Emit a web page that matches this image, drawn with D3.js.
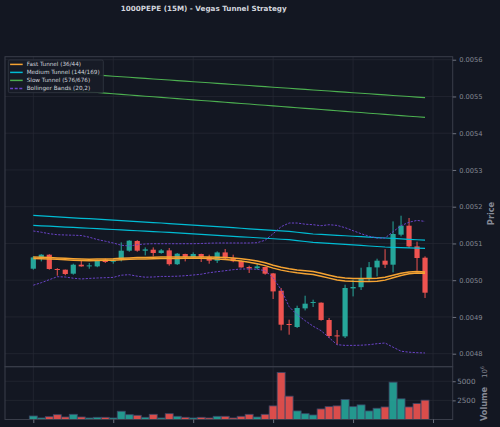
<!DOCTYPE html>
<html>
<head>
<meta charset="utf-8">
<script src="https://cdn.jsdelivr.net/npm/d3@7"></script>
<style>
    html, body { margin: 0; padding: 0; background: #131722; }
    svg { display: block; font-family: "DejaVu Sans", sans-serif; }
</style>
</head>
<body>
<div id="plot"></div>
<script>
// ---- data ----
let title = '1000PEPE (15M) - Vegas Tunnel Strategy';

let open = [0.0050313, 0.0050620, 0.0050694, 0.0050305, 0.0050286, 0.0050177, 0.0050422, 0.0050376, 0.0050376, 0.0050558,
    0.0050503, 0.0050571, 0.0050803, 0.0051067, 0.0050803, 0.0050830, 0.0050740, 0.0050811, 0.0050435, 0.0050713,
    0.0050631, 0.0050713, 0.0050631, 0.0050531, 0.0050756, 0.0050599, 0.0050522, 0.0050359, 0.0050327, 0.0050359,
    0.0050185, 0.0049714, 0.0048808, 0.0048726, 0.0049233, 0.0049380, 0.0049388, 0.0048917, 0.0048498, 0.0048471,
    0.0049777, 0.0049810, 0.0050041, 0.0050348, 0.0050531, 0.0050422, 0.0051238, 0.0051483, 0.0050920, 0.0050612];
let high = [0.0050653, 0.0050707, 0.0050707, 0.0050327, 0.0050290, 0.0050449, 0.0050539, 0.0050468, 0.0050558, 0.0050585,
    0.0050577, 0.0051029, 0.0051088, 0.0051088, 0.0050892, 0.0050892, 0.0050849, 0.0050876, 0.0050740, 0.0050721,
    0.0050756, 0.0050721, 0.0050694, 0.0050784, 0.0050849, 0.0050694, 0.0050531, 0.0050395, 0.0050449, 0.0050367,
    0.0050196, 0.0049788, 0.0048925, 0.0049306, 0.0049578, 0.0049469, 0.0049396, 0.0048971, 0.0048645, 0.0049878,
    0.0050014, 0.0050340, 0.0050495, 0.0050585, 0.0050844, 0.0051600, 0.0051755, 0.0051693, 0.0051048, 0.0050648];
let low = [0.0050286, 0.0050512, 0.0050286, 0.0050122, 0.0050136, 0.0050150, 0.0050367, 0.0050313, 0.0050354, 0.0050468,
    0.0050449, 0.0050512, 0.0050775, 0.0050775, 0.0050675, 0.0050648, 0.0050721, 0.0050395, 0.0050414, 0.0050512,
    0.0050604, 0.0050495, 0.0050449, 0.0050468, 0.0050571, 0.0050490, 0.0050340, 0.0050196, 0.0050286, 0.0050150,
    0.0049488, 0.0048634, 0.0048517, 0.0048699, 0.0049178, 0.0049271, 0.0048898, 0.0048427, 0.0048245, 0.0048427,
    0.0049559, 0.0049733, 0.0049967, 0.0050103, 0.0050332, 0.0050212, 0.0051192, 0.0050876, 0.0050258, 0.0049516];
let close = [0.0050620, 0.0050694, 0.0050305, 0.0050278, 0.0050169, 0.0050422, 0.0050376, 0.0050403, 0.0050539, 0.0050495,
    0.0050539, 0.0050803, 0.0051075, 0.0050803, 0.0050838, 0.0050740, 0.0050811, 0.0050435, 0.0050721, 0.0050631,
    0.0050713, 0.0050631, 0.0050531, 0.0050756, 0.0050593, 0.0050517, 0.0050348, 0.0050321, 0.0050376, 0.0050177,
    0.0049695, 0.0048789, 0.0048781, 0.0049243, 0.0049361, 0.0049407, 0.0048917, 0.0048482, 0.0048471, 0.0049788,
    0.0049815, 0.0050041, 0.0050354, 0.0050531, 0.0050422, 0.0051257, 0.0051483, 0.0050920, 0.0050604, 0.0049660];

// volume in units of 10^6
let volume = [460, 200, 370, 630, 330, 680, 330, 200, 290, 290,
    200, 1080, 630, 550, 290, 680, 200, 760, 420, 290,
    200, 290, 200, 420, 420, 200, 420, 680, 330, 680,
    1780, 6150, 3050, 1120, 760, 590, 1380, 1680, 1780, 2610,
    1680, 1910, 1120, 1470, 1640, 4880, 2700, 1640, 2080, 2530];

// Fast tunnel EMA 36 / 44
let fast36 = [0.0050631, 0.0050626, 0.0050618, 0.0050607, 0.0050596, 0.0050585, 0.0050577, 0.0050571, 0.0050574, 0.0050580,
    0.0050585, 0.0050596, 0.0050607, 0.0050615, 0.0050620, 0.0050626, 0.0050631, 0.0050631, 0.0050631, 0.0050634,
    0.0050634, 0.0050634, 0.0050631, 0.0050626, 0.0050618, 0.0050604, 0.0050585, 0.0050558, 0.0050525, 0.0050476,
    0.0050408, 0.0050354, 0.0050313, 0.0050280, 0.0050258, 0.0050237, 0.0050190, 0.0050136, 0.0050087, 0.0050060,
    0.0050049, 0.0050046, 0.0050046, 0.0050054, 0.0050082, 0.0050136, 0.0050190, 0.0050223, 0.0050237, 0.0050226];
let fast44 = [0.0050591, 0.0050586, 0.0050578, 0.0050567, 0.0050556, 0.0050545, 0.0050537, 0.0050531, 0.0050534, 0.0050540,
    0.0050545, 0.0050556, 0.0050567, 0.0050575, 0.0050580, 0.0050586, 0.0050591, 0.0050591, 0.0050591, 0.0050594,
    0.0050594, 0.0050594, 0.0050591, 0.0050576, 0.0050563, 0.0050544, 0.0050520, 0.0050488, 0.0050450, 0.0050396,
    0.0050328, 0.0050274, 0.0050233, 0.0050200, 0.0050178, 0.0050157, 0.0050110, 0.0050056, 0.0050007, 0.0049980,
    0.0049969, 0.0049966, 0.0049966, 0.0049974, 0.0050002, 0.0050066, 0.0050130, 0.0050173, 0.0050197, 0.0050191];

// Medium tunnel EMA 144 / 169
let medium144 = [0.0051763, 0.0051750, 0.0051737, 0.0051724, 0.0051711, 0.0051698, 0.0051685, 0.0051673, 0.0051660, 0.0051647,
    0.0051634, 0.0051621, 0.0051608, 0.0051595, 0.0051582, 0.0051569, 0.0051556, 0.0051542, 0.0051528, 0.0051513,
    0.0051499, 0.0051485, 0.0051471, 0.0051456, 0.0051442, 0.0051428, 0.0051414, 0.0051399, 0.0051385, 0.0051371,
    0.0051356, 0.0051342, 0.0051328, 0.0051304, 0.0051281, 0.0051257, 0.0051245, 0.0051233, 0.0051221, 0.0051209,
    0.0051196, 0.0051184, 0.0051172, 0.0051160, 0.0051148, 0.0051136, 0.0051124, 0.0051112, 0.0051100, 0.0051088];
let medium169 = [0.0051491, 0.0051480, 0.0051469, 0.0051457, 0.0051446, 0.0051435, 0.0051424, 0.0051413, 0.0051401, 0.0051390,
    0.0051379, 0.0051368, 0.0051357, 0.0051345, 0.0051334, 0.0051323, 0.0051312, 0.0051299, 0.0051286, 0.0051273,
    0.0051260, 0.0051247, 0.0051234, 0.0051220, 0.0051207, 0.0051194, 0.0051181, 0.0051168, 0.0051155, 0.0051142,
    0.0051128, 0.0051115, 0.0051102, 0.0051078, 0.0051053, 0.0051029, 0.0051015, 0.0051001, 0.0050987, 0.0050973,
    0.0050959, 0.0050945, 0.0050931, 0.0050917, 0.0050903, 0.0050895, 0.0050888, 0.0050880, 0.0050873, 0.0050865];

// Slow tunnel EMA 576 / 676
let slow576 = [0.0055701, 0.0055686, 0.0055671, 0.0055656, 0.0055641, 0.0055626, 0.0055612, 0.0055597, 0.0055582, 0.0055567,
    0.0055552, 0.0055537, 0.0055522, 0.0055507, 0.0055492, 0.0055477, 0.0055462, 0.0055447, 0.0055432, 0.0055417,
    0.0055402, 0.0055387, 0.0055372, 0.0055357, 0.0055342, 0.0055327, 0.0055312, 0.0055297, 0.0055282, 0.0055267,
    0.0055252, 0.0055237, 0.0055222, 0.0055207, 0.0055192, 0.0055177, 0.0055162, 0.0055147, 0.0055132, 0.0055117,
    0.0055102, 0.0055087, 0.0055072, 0.0055057, 0.0055042, 0.0055027, 0.0055012, 0.0054997, 0.0054982, 0.0054967];
let slow676 = [0.0055238, 0.0055222, 0.0055205, 0.0055189, 0.0055172, 0.0055156, 0.0055139, 0.0055123, 0.0055106, 0.0055090,
    0.0055073, 0.0055057, 0.0055040, 0.0055024, 0.0055007, 0.0054991, 0.0054974, 0.0054958, 0.0054941, 0.0054925,
    0.0054908, 0.0054892, 0.0054875, 0.0054859, 0.0054842, 0.0054826, 0.0054809, 0.0054793, 0.0054776, 0.0054760,
    0.0054743, 0.0054727, 0.0054710, 0.0054694, 0.0054677, 0.0054661, 0.0054644, 0.0054628, 0.0054611, 0.0054595,
    0.0054578, 0.0054562, 0.0054545, 0.0054529, 0.0054512, 0.0054496, 0.0054479, 0.0054463, 0.0054446, 0.0054430];

// Bollinger bands (20, 2)
let bbUpper = [0.0051339, 0.0051306, 0.0051265, 0.0051238, 0.0051230, 0.0051224, 0.0051216, 0.0051170, 0.0051107, 0.0051061,
    0.0051012, 0.0050952, 0.0050931, 0.0050966, 0.0050985, 0.0050993, 0.0050993, 0.0050993, 0.0050993, 0.0050993,
    0.0050993, 0.0050999, 0.0051007, 0.0051012, 0.0051012, 0.0051012, 0.0051012, 0.0051012, 0.0051020, 0.0051088,
    0.0051265, 0.0051456, 0.0051556, 0.0051556, 0.0051524, 0.0051510, 0.0051483, 0.0051510, 0.0051491, 0.0051429,
    0.0051347, 0.0051265, 0.0051197, 0.0051148, 0.0051148, 0.0051320, 0.0051483, 0.0051578, 0.0051627, 0.0051600];
let bbLower = [0.0049864, 0.0049932, 0.0050014, 0.0050095, 0.0050087, 0.0050054, 0.0050033, 0.0050049, 0.0050060, 0.0050068,
    0.0050076, 0.0050136, 0.0050150, 0.0050109, 0.0050082, 0.0050087, 0.0050103, 0.0050103, 0.0050109, 0.0050122,
    0.0050141, 0.0050163, 0.0050204, 0.0050231, 0.0050258, 0.0050286, 0.0050305, 0.0050305, 0.0050299, 0.0050258,
    0.0050068, 0.0049741, 0.0049279, 0.0049061, 0.0048898, 0.0048748, 0.0048626, 0.0048435, 0.0048245, 0.0048226,
    0.0048226, 0.0048231, 0.0048245, 0.0048272, 0.0048291, 0.0048177, 0.0048068, 0.0048041, 0.0048027, 0.0048019];

let priceTicks = [0.0048, 0.0049, 0.0050, 0.0051, 0.0052, 0.0053, 0.0054, 0.0055, 0.0056];
let volumeTicks = [2500, 5000];
let xTicks = [0, 10, 20, 30, 40, 50];

let legendLabels = ['Fast Tunnel (36/44)', 'Medium Tunnel (144/169)', 'Slow Tunnel (576/676)', 'Bollinger Bands (20,2)'];

// ---- layout ----
let svgWidth = 500;
let svgHeight = 427;
let panel = { left: 5, right: 452.7, top: 56.7, split: 366.7, bottom: 419.5 };

let colors = {
    bg: '#131722', grid: '#262a35', spine: '#3a3e4a', tick: '#858995', text: '#d1d4dc',
    up: '#26a69a', down: '#ef5350',
    fast: '#f5a332', medium: '#00bcd4', slow: '#4caf50', bb: '#6a43c8'
};

let $svg = d3.select('#plot')
    .append('svg')
    .attr('width', svgWidth)
    .attr('height', svgHeight);

$svg.append('rect')
    .attr('width', svgWidth)
    .attr('height', svgHeight)
    .attr('fill', colors.bg);

let n = close.length;
let idx = d3.range(n);

let xScale = d3.scaleLinear()
    .domain([-3.54, 52.46])
    .range([panel.left, panel.right]);

let yScale = d3.scaleLinear()
    .domain([0.0047646, 0.0056082])
    .range([panel.split, panel.top]);

let vScale = d3.scaleLinear()
    .domain([0, 6900])
    .range([panel.bottom, panel.split]);

let unit = xScale(1) - xScale(0);

// clip paths for the two panels
let defs = $svg.append('defs');
defs.append('clipPath').attr('id', 'clip-main')
    .append('rect')
    .attr('x', panel.left).attr('y', panel.top)
    .attr('width', panel.right - panel.left).attr('height', panel.split - panel.top);
defs.append('clipPath').attr('id', 'clip-vol')
    .append('rect')
    .attr('x', panel.left).attr('y', panel.split)
    .attr('width', panel.right - panel.left).attr('height', panel.bottom - panel.split);

// ---- grids ----
let $grid = $svg.append('g').attr('stroke', colors.grid).attr('stroke-width', 0.7);

$grid.selectAll('.hgrid')
    .data(priceTicks)
    .enter()
    .append('line')
    .attr('x1', panel.left).attr('x2', panel.right)
    .attr('y1', d => yScale(d)).attr('y2', d => yScale(d));

$grid.selectAll('.vhgrid')
    .data(volumeTicks)
    .enter()
    .append('line')
    .attr('x1', panel.left).attr('x2', panel.right)
    .attr('y1', d => vScale(d)).attr('y2', d => vScale(d));

$grid.selectAll('.vgrid')
    .data(xTicks)
    .enter()
    .append('line')
    .attr('x1', d => xScale(d)).attr('x2', d => xScale(d))
    .attr('y1', panel.top).attr('y2', panel.bottom);

// ---- candles ----
let $candles = $svg.append('g').attr('clip-path', 'url(#clip-main)');

let candleData = idx.map(i => ({ i: i, o: open[i], h: high[i], l: low[i], c: close[i], v: volume[i] }));
let colorOf = d => d.c >= d.o ? colors.up : colors.down;

$candles.selectAll('.wick')
    .data(candleData)
    .enter()
    .append('line')
    .attr('x1', d => xScale(d.i)).attr('x2', d => xScale(d.i))
    .attr('y1', d => yScale(d.h)).attr('y2', d => yScale(d.l))
    .attr('stroke', colorOf)
    .attr('stroke-width', 1);

$candles.selectAll('.body')
    .data(candleData)
    .enter()
    .append('rect')
    .attr('x', d => xScale(d.i - 0.325))
    .attr('width', unit * 0.65)
    .attr('y', d => yScale(Math.max(d.o, d.c)))
    .attr('height', d => Math.max(1, Math.abs(yScale(d.o) - yScale(d.c))))
    .attr('fill', colorOf);

// ---- indicator lines ----
let lineGen = d3.line()
    .x((d, i) => xScale(i))
    .y(d => yScale(d));

let $lines = $svg.append('g').attr('clip-path', 'url(#clip-main)').attr('fill', 'none');

let series = [
    { values: slow576, color: colors.slow, width: 1.1 },
    { values: slow676, color: colors.slow, width: 1.1 },
    { values: medium144, color: colors.medium, width: 1.2 },
    { values: medium169, color: colors.medium, width: 1.2 },
    { values: bbUpper, color: colors.bb, width: 1, dash: '2.2,1.4' },
    { values: bbLower, color: colors.bb, width: 1, dash: '2.2,1.4' },
    { values: fast36, color: colors.fast, width: 1.5 },
    { values: fast44, color: colors.fast, width: 1.5 }
];

series.forEach(s => {
    $lines.append('path')
        .attr('d', lineGen(s.values))
        .attr('stroke', s.color)
        .attr('stroke-width', s.width)
        .attr('stroke-dasharray', s.dash || null);
});

// ---- volume bars ----
$svg.append('g')
    .attr('clip-path', 'url(#clip-vol)')
    .selectAll('rect')
    .data(candleData)
    .enter()
    .append('rect')
    .attr('x', d => xScale(d.i - 0.5))
    .attr('width', unit)
    .attr('y', d => vScale(d.v))
    .attr('height', d => vScale(0) - vScale(d.v))
    .attr('fill', colorOf)
    .attr('fill-opacity', 0.9)
    .attr('stroke', '#3b4766')
    .attr('stroke-width', 0.8);

// ---- frames ----
let $frame = $svg.append('g').attr('fill', 'none').attr('stroke', colors.spine).attr('stroke-width', 1);
$frame.append('rect')
    .attr('x', panel.left).attr('y', panel.top)
    .attr('width', panel.right - panel.left).attr('height', panel.split - panel.top);
$frame.append('rect')
    .attr('x', panel.left).attr('y', panel.split)
    .attr('width', panel.right - panel.left).attr('height', panel.bottom - panel.split);

// ---- axes ----
let priceAxis = d3.axisRight(yScale)
    .tickValues(priceTicks)
    .tickFormat(d3.format('.4f'))
    .tickSize(3.5)
    .tickPadding(3);

let $pAxis = $svg.append('g')
    .attr('transform', `translate(${panel.right}, 0)`)
    .call(priceAxis);

let volAxis = d3.axisRight(vScale)
    .tickValues(volumeTicks)
    .tickFormat(d3.format('d'))
    .tickSize(3)
    .tickPadding(1.5);

let $vAxis = $svg.append('g')
    .attr('transform', `translate(${panel.right}, 0)`)
    .call(volAxis);

let bottomAxis = d3.axisBottom(xScale)
    .tickValues(xTicks)
    .tickFormat('')
    .tickSize(3.5);

let $xAxis = $svg.append('g')
    .attr('transform', `translate(0, ${panel.bottom})`)
    .call(bottomAxis);

[$pAxis, $vAxis, $xAxis].forEach($a => {
    $a.select('.domain').remove();
    $a.selectAll('.tick line').attr('stroke', colors.tick).attr('stroke-width', 0.8);
    $a.selectAll('.tick text')
        .attr('fill', colors.tick)
        .attr('font-family', '"DejaVu Sans", sans-serif');
});
$pAxis.selectAll('.tick text').attr('font-size', 6.7);
$vAxis.selectAll('.tick text').attr('font-size', 7.2);

// axis labels
$svg.append('text')
    .attr('transform', 'translate(494, 213.5) rotate(-90)')
    .attr('text-anchor', 'middle')
    .attr('font-size', 8.2)
    .attr('font-weight', 'bold')
    .attr('fill', colors.tick)
    .text('Price');

$svg.append('text')
    .attr('transform', 'translate(486.5, 404) rotate(-90)')
    .attr('text-anchor', 'middle')
    .attr('font-size', 8.2)
    .attr('font-weight', 'bold')
    .attr('fill', colors.tick)
    .text('Volume');

let $offset = $svg.append('text')
    .attr('transform', 'translate(486.5, 372) rotate(-90)')
    .attr('text-anchor', 'middle')
    .attr('font-size', 7)
    .attr('fill', colors.tick);
$offset.append('tspan').text('10');
$offset.append('tspan').attr('dy', -3).attr('font-size', 5).text('6');

// title
$svg.append('text')
    .attr('x', 203.7)
    .attr('y', 11)
    .attr('text-anchor', 'middle')
    .attr('font-size', 7.2)
    .attr('font-weight', 'bold')
    .attr('fill', colors.text)
    .text(title);

// ---- legend ----
let legendItems = [
    { label: legendLabels[0], color: colors.fast },
    { label: legendLabels[1], color: colors.medium },
    { label: legendLabels[2], color: colors.slow },
    { label: legendLabels[3], color: colors.bb, dash: '3,1.6' }
];

let $legend = $svg.append('g').attr('transform', 'translate(8.3, 60)');

$legend.append('rect')
    .attr('width', 95)
    .attr('height', 32.7)
    .attr('rx', 1.5)
    .attr('fill', '#181c27')
    .attr('fill-opacity', 0.92)
    .attr('stroke', '#343844')
    .attr('stroke-width', 0.8);

legendItems.forEach((item, i) => {
    let yy = 4.4 + i * 8;
    $legend.append('line')
        .attr('x1', 1.8).attr('x2', 14.4)
        .attr('y1', yy).attr('y2', yy)
        .attr('stroke', item.color)
        .attr('stroke-width', 1.5)
        .attr('stroke-dasharray', item.dash || null);
    $legend.append('text')
        .attr('x', 18.4)
        .attr('y', yy + 2)
        .attr('font-size', 5.7)
        .attr('fill', colors.text)
        .text(item.label);
});
</script>
</body>
</html>
